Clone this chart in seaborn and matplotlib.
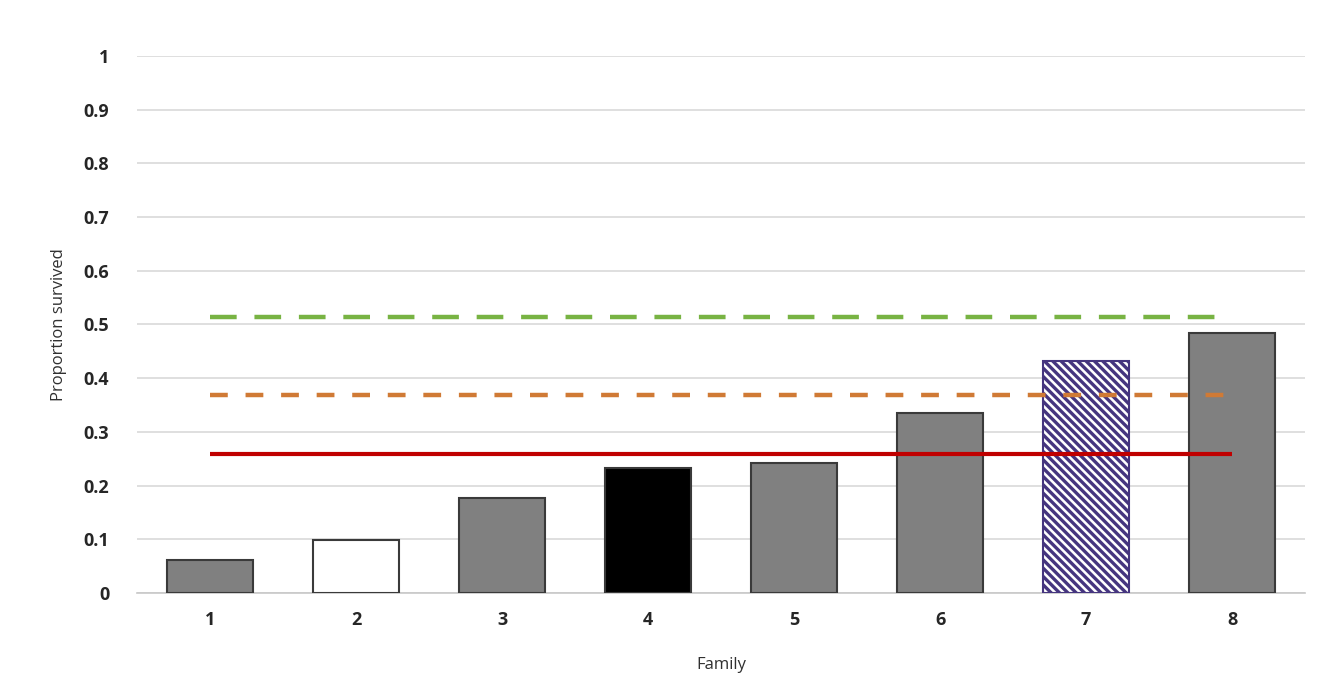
import matplotlib
matplotlib.use("Agg")
import matplotlib.pyplot as plt
import seaborn as sns
import pandas as pd

families = ["1", "2", "3", "4", "5", "6", "7", "8"]
proportion = [0.062, 0.099, 0.177, 0.233, 0.242, 0.335, 0.432, 0.484]
bar_colors = ["#808080", "#ffffff", "#808080", "#000000", "#808080", "#808080", "#ffffff", "#808080"]
ref_values = [0.514, 0.369, 0.259]
ref_colors = ["#78b343", "#d07a35", "#c00000"]
ref_styles = [(0, (6, 4)), (0, (4, 4)), "-"]
yticks = [0, 0.1, 0.2, 0.3, 0.4, 0.5, 0.6, 0.7, 0.8, 0.9, 1]
ytick_labels = ["0", "0.1", "0.2", "0.3", "0.4", "0.5", "0.6", "0.7", "0.8", "0.9", "1"]

sns.set_theme(style="white")
plt.rcParams["font.family"] = ["Open Sans", "DejaVu Sans"]
plt.rcParams["hatch.linewidth"] = 2.4

df = pd.DataFrame({"Family": families, "Proportion": proportion})

fig = plt.figure(figsize=(13.17, 6.81), dpi=100)
ax = fig.add_axes([0.104, 0.129, 0.887, 0.789])

sns.barplot(data=df, x="Family", y="Proportion", hue="Family",
            palette=bar_colors, legend=False, width=0.59,
            edgecolor="#3a3a3a", linewidth=1.5, ax=ax, zorder=3)

for i, p in enumerate(ax.patches):
    if i == 6:
        p.set_hatch("\\\\\\\\")
        p.set_edgecolor("#45357f")
        p.set_facecolor("#ffffff")

for v, c, ls in zip(ref_values, ref_colors, ref_styles):
    lw = 3.2 if ls != "-" else 3.0
    ax.hlines(v, 0, 7, colors=c, linestyles=[ls], linewidth=lw, zorder=4)

ax.set_ylim(0, 1.0)
ax.set_xlim(-0.5, 7.5)
ax.set_yticks(yticks)
ax.set_yticklabels(ytick_labels)
ax.yaxis.grid(True, color="#d9d9d9", linewidth=1.2, zorder=0)
ax.set_axisbelow(True)
for s in ["top", "right", "left"]:
    ax.spines[s].set_visible(False)
ax.spines["bottom"].set_color("#c8c8c8")
ax.spines["bottom"].set_linewidth(1.2)
ax.tick_params(axis="y", length=0, labelsize=13, colors="#262626", pad=20)
ax.tick_params(axis="x", length=0, labelsize=13, colors="#262626", pad=13)
for lab in ax.get_xticklabels() + ax.get_yticklabels():
    lab.set_fontweight("bold")
ax.set_xlabel("Family", fontsize=12, color="#303030", labelpad=20)
ax.set_ylabel("Proportion survived", fontsize=12, color="#303030", labelpad=12)

fig.savefig("out.png", dpi=100)
